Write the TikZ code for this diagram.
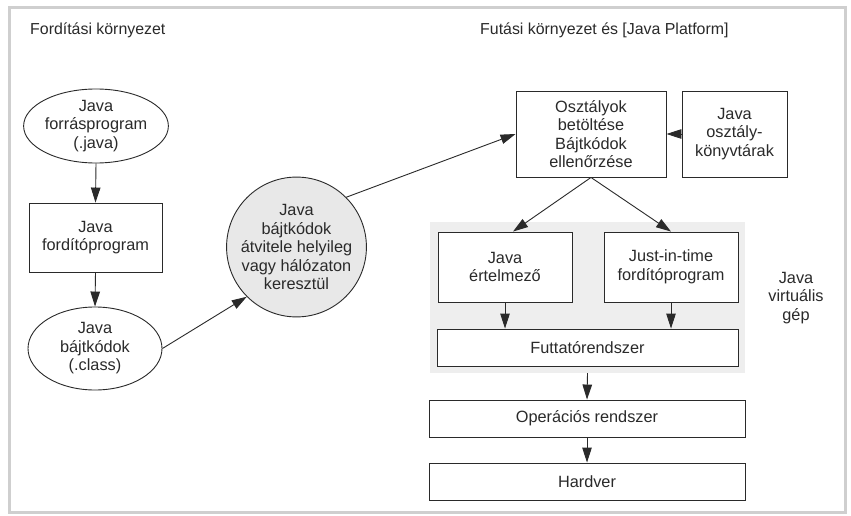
\documentclass[tikz,border=0pt]{standalone}
\usepackage{fontspec}
\setmainfont{Liberation Sans}
\usetikzlibrary{arrows.meta,shapes.geometric}
\definecolor{ink}{HTML}{2A2A2A}
\definecolor{frame}{HTML}{CFCFCF}
\definecolor{jvmgray}{HTML}{EEEEEE}
\definecolor{circgray}{HTML}{E8E8E8}
\begin{document}
\begin{tikzpicture}[x=1pt,y=-1pt,
  every node/.style={font=\fontsize{16.3}{18.5}\selectfont, text=ink, align=center, inner sep=0pt},
  titletext/.style={font=\fontsize{15.9}{18}\selectfont},
  boxnode/.style={draw=ink, line width=0.9pt, fill=white, rectangle},
  ellnode/.style={draw=ink, line width=0.9pt, fill=white, ellipse},
  arr/.style={draw=ink, line width=0.9pt, -{Triangle[length=15pt,width=9.5pt]}}]
\useasboundingbox (0,0) rectangle (851,516);
\fill[white] (0,0) rectangle (851,516);
\node[draw=frame, line width=3pt, minimum width=836pt, minimum height=504pt] (outer) at (427,260) {};
\node[titletext, anchor=west] (t1) at (30,30) {Fordítási környezet};
\node[titletext, anchor=west] (t2) at (480,30) {Futási környezet és [Java Platform]};
\node[fill=jvmgray, minimum width=315pt, minimum height=151pt] (jvm) at (587.5,297.5) {};
% left column
\node[ellnode, minimum width=134pt, minimum height=74pt] (src) at (96,126) {Java\\forrásprogram\\(.java)};
\node[boxnode, minimum width=133pt, minimum height=69pt] (comp) at (95.5,237.5) {Java\\fordítóprogram};
\node[ellnode, minimum width=134pt, minimum height=83pt] (cls) at (95,348.5) {Java\\bájtkódok\\(.class)};
\node[draw=ink, line width=0.9pt, fill=circgray, circle, minimum size=130pt] (circ) at (296.5,247) {Java\\bájtkódok\\átvitele helyileg\\vagy hálózaton\\keresztül};
% right part
\node[boxnode, minimum width=150pt, minimum height=86pt] (osz) at (591,134) {Osztályok\\betöltése\\Bájtkódok\\ellenőrzése};
\node[boxnode, minimum width=105pt, minimum height=86pt] (lib) at (734.5,134) {Java\\osztály-\\könyvtárak};
\node[boxnode, minimum width=134pt, minimum height=70pt] (interp) at (505,267) {Java\\értelmező};
\node[boxnode, minimum width=134pt, minimum height=70pt] (jit) at (671,267) {Just-in-time\\fordítóprogram};
\node[boxnode, minimum width=301pt, minimum height=37pt] (rt) at (587.5,347.5) {Futtatórendszer};
\node[boxnode, minimum width=316pt, minimum height=37pt] (os) at (587,418.5) {Operációs rendszer};
\node[boxnode, minimum width=316pt, minimum height=37pt] (hw) at (587,481.5) {Hardver};
\node (jvmlabel) at (796,298) {Java\\virtuális\\gép};
% connectors
\draw[arr] (src.south) -- (comp.north);
\draw[arr] (comp.south) -- (cls.north);
\draw[arr] (cls.east) -- (circ.south west);
\draw[arr] (circ.north east) -- (osz.west);
\draw[arr] (lib.west) -- (osz.east);
\draw[arr] (osz.south) -- (interp.north -| 513,0);
\draw[arr] (osz.south) -- (jit.north);
\draw[arr] (interp.south) -- (rt.north -| interp.south);
\draw[arr] (jit.south) -- (rt.north -| jit.south);
\draw[arr] (jvm.south) -- (os.north);
\draw[arr] (os.south) -- (hw.north);
\end{tikzpicture}
\end{document}
